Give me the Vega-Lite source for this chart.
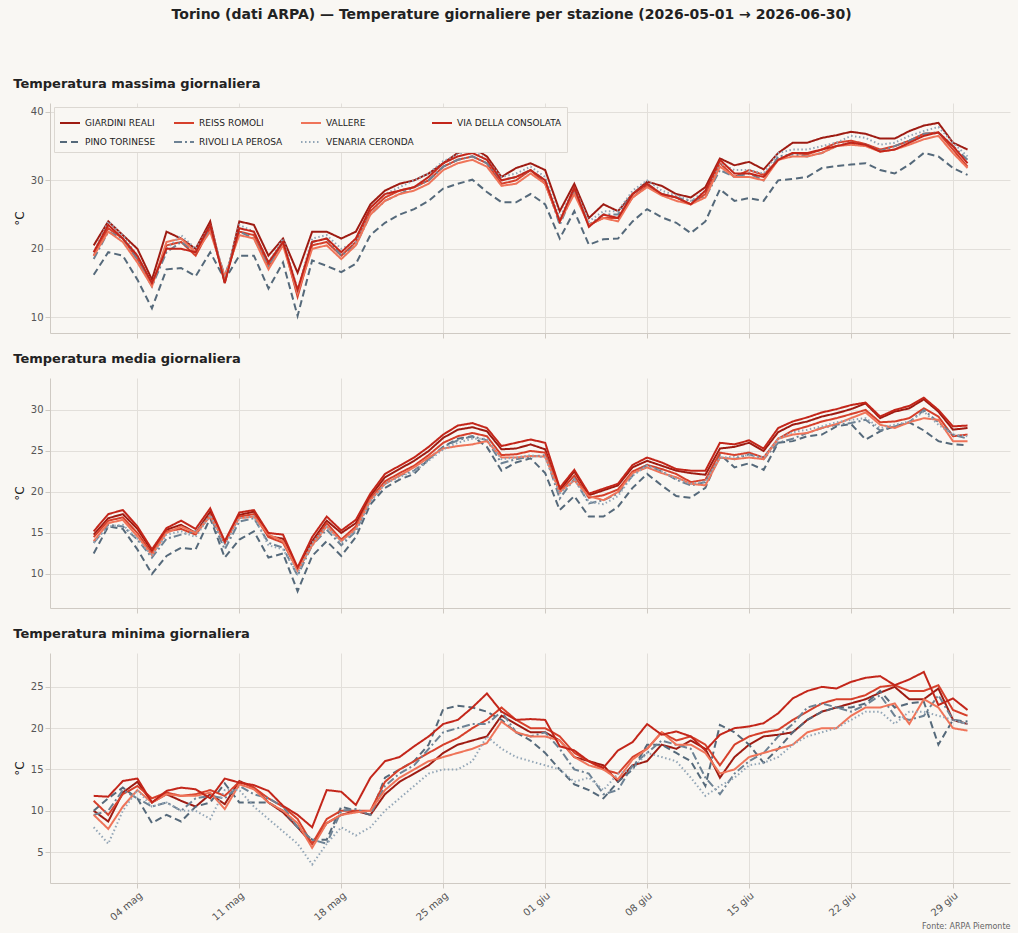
{
  "$schema": "https://vega.github.io/schema/vega-lite/v6.json",
  "background": "#f9f7f3",
  "padding": {"left": 13, "top": 8, "right": 8, "bottom": 2},
  "title": {"text": "Torino (dati ARPA) — Temperature giornaliere per stazione (2026-05-01 → 2026-06-30)", "fontSize": 14, "fontWeight": "bold", "color": "#222", "anchor": "middle", "offset": 56},
  "config": {
    "font": "DejaVu Sans",
    "view": {"stroke": null},
    "axis": {"gridColor": "#e2dfda", "domainColor": "#cfcac3", "tickColor": "#cfcac3", "labelColor": "#555", "labelFontSize": 10, "titleFontSize": 12, "titleFontWeight": "normal", "titleColor": "#222"},
    "title": {"anchor": "start", "fontSize": 13, "fontWeight": "bold", "color": "#222", "offset": 12}
  },
  "datasets": {
    "t": [
      {"d":"2026/05/01","gx":20.5,"px":16.2,"rx":19,"rvx":18.5,"vx":19,"vex":19.5,"cx":19.5,"gm":14.8,"pm":12.5,"rm":14.5,"rvm":13.8,"vm":14,"vem":13.8,"cm":15.2,"gn":10,"pn":10,"rn":11.2,"rvn":9.5,"vn":9.5,"ven":8,"cn":11.8},
      {"d":"2026/05/02","gx":24,"px":19.5,"rx":23,"rvx":22.5,"vx":22.5,"vex":24,"cx":23.5,"gm":16.8,"pm":15.8,"rm":16.5,"rvm":16,"vm":16.2,"vem":15.8,"cm":17.3,"gn":8.7,"pn":11.5,"rn":9.5,"rvn":10,"vn":7.8,"ven":6,"cn":11.7},
      {"d":"2026/05/03","gx":22,"px":19,"rx":21.5,"rvx":21.5,"vx":21,"vex":22,"cx":21.5,"gm":17.3,"pm":15.5,"rm":16.9,"rvm":15.8,"vm":16.6,"vem":16,"cm":17.8,"gn":12.2,"pn":12.8,"rn":12,"rvn":12.5,"vn":10.5,"ven":10,"cn":13.6},
      {"d":"2026/05/04","gx":20,"px":15.5,"rx":18.5,"rvx":18.5,"vx":18,"vex":19,"cx":19,"gm":15.5,"pm":13,"rm":15,"rvm":14.2,"vm":14.6,"vem":14.3,"cm":15.8,"gn":13.5,"pn":11.5,"rn":13,"rvn":11.5,"vn":12.5,"ven":12.5,"cn":13.9},
      {"d":"2026/05/05","gx":15.5,"px":11.3,"rx":14.8,"rvx":14.5,"vx":14.5,"vex":15,"cx":15,"gm":12.8,"pm":10,"rm":12.5,"rvm":12,"vm":12.3,"vem":12.2,"cm":13,"gn":11,"pn":8.5,"rn":11.5,"rvn":10.5,"vn":11,"ven":10.5,"cn":11},
      {"d":"2026/05/06","gx":22.5,"px":17,"rx":20.5,"rvx":19.5,"vx":21,"vex":20,"cx":20,"gm":15.4,"pm":12.2,"rm":15.2,"rvm":14.3,"vm":15,"vem":14.8,"cm":15.6,"gn":12,"pn":9.5,"rn":12.2,"rvn":11,"vn":12,"ven":11,"cn":12.4},
      {"d":"2026/05/07","gx":21.5,"px":17.2,"rx":21,"rvx":21,"vx":21.5,"vex":22,"cx":20,"gm":16,"pm":13.2,"rm":15.5,"rvm":14.8,"vm":15.8,"vem":15.2,"cm":16.5,"gn":11.2,"pn":8.7,"rn":11.8,"rvn":10,"vn":11.8,"ven":10,"cn":12.8},
      {"d":"2026/05/08","gx":20,"px":16,"rx":19,"rvx":19.5,"vx":19.5,"vex":20,"cx":19.5,"gm":15,"pm":13,"rm":14.8,"rvm":15.2,"vm":15,"vem":14.5,"cm":15.5,"gn":10.5,"pn":10.5,"rn":12,"rvn":11.5,"vn":11.8,"ven":10,"cn":12.6},
      {"d":"2026/05/09","gx":24,"px":19.5,"rx":23,"rvx":23,"vx":22.5,"vex":23.5,"cx":23.5,"gm":17.6,"pm":16.8,"rm":17.2,"rvm":17,"vm":17,"vem":17.2,"cm":18,"gn":12,"pn":11,"rn":12.5,"rvn":11.8,"vn":12.2,"ven":9,"cn":11.5},
      {"d":"2026/05/10","gx":15,"px":15.5,"rx":15.5,"rvx":16,"vx":16,"vex":15.5,"cx":15,"gm":13.8,"pm":12,"rm":13.8,"rvm":13,"vm":14,"vem":13.5,"cm":14,"gn":10.8,"pn":13.3,"rn":11.8,"rvn":11.5,"vn":10.2,"ven":12.5,"cn":13.9},
      {"d":"2026/05/11","gx":24,"px":19,"rx":22.5,"rvx":22.5,"vx":22,"vex":23.5,"cx":23,"gm":17.2,"pm":14.2,"rm":17,"rvm":16.4,"vm":16.8,"vem":16.8,"cm":17.5,"gn":13.6,"pn":11,"rn":13.5,"rvn":13,"vn":13.2,"ven":12.5,"cn":13.4},
      {"d":"2026/05/12","gx":23.5,"px":19,"rx":22,"rvx":21.5,"vx":21.5,"vex":22.5,"cx":22.5,"gm":17.6,"pm":15.2,"rm":17.3,"rvm":16.8,"vm":17,"vem":17,"cm":17.8,"gn":12.8,"pn":11,"rn":12.8,"rvn":12,"vn":12.6,"ven":10.5,"cn":13.1},
      {"d":"2026/05/13","gx":19,"px":14.2,"rx":17.5,"rvx":17.5,"vx":17,"vex":18,"cx":18,"gm":14.6,"pm":12,"rm":14.5,"rvm":13.8,"vm":14.8,"vem":13.5,"cm":15,"gn":11,"pn":11,"rn":11.5,"rvn":11.5,"vn":11,"ven":9,"cn":12.4},
      {"d":"2026/05/14","gx":21.5,"px":18,"rx":21,"rvx":21,"vx":20.5,"vex":21.5,"cx":21,"gm":14.3,"pm":12.5,"rm":13.8,"rvm":13.2,"vm":14,"vem":13,"cm":14.8,"gn":9.8,"pn":10,"rn":10.5,"rvn":10.5,"vn":10,"ven":7.5,"cn":10.6},
      {"d":"2026/05/15","gx":16.5,"px":10.2,"rx":13,"rvx":13.5,"vx":13.5,"vex":14,"cx":14,"gm":10.6,"pm":7.9,"rm":10.5,"rvm":9.8,"vm":10.4,"vem":10,"cm":10.8,"gn":8,"pn":8,"rn":9,"rvn":8,"vn":8.5,"ven":6,"cn":9.5},
      {"d":"2026/05/16","gx":22.5,"px":18.3,"rx":20.5,"rvx":21,"vx":20,"vex":21.5,"cx":21,"gm":14,"pm":12.2,"rm":13.6,"rvm":13.5,"vm":13.5,"vem":13.8,"cm":14.5,"gn":6,"pn":6.5,"rn":6,"rvn":6.5,"vn":5.5,"ven":3.5,"cn":8},
      {"d":"2026/05/17","gx":22.5,"px":17.5,"rx":21,"rvx":21.5,"vx":20.5,"vex":22,"cx":21.5,"gm":16.5,"pm":14,"rm":16.2,"rvm":15.4,"vm":15.8,"vem":15.8,"cm":17,"gn":8.5,"pn":6.5,"rn":9,"rvn":6,"vn":8.5,"ven":6,"cn":12.5},
      {"d":"2026/05/18","gx":21.5,"px":16.6,"rx":19,"rvx":19,"vx":18.5,"vex":20,"cx":19.5,"gm":15,"pm":12.2,"rm":14.2,"rvm":13.5,"vm":14,"vem":13.8,"cm":15.3,"gn":9.5,"pn":10.5,"rn":10,"rvn":10,"vn":9.5,"ven":8,"cn":12.3},
      {"d":"2026/05/19","gx":22.5,"px":17.8,"rx":21,"rvx":20.5,"vx":20.5,"vex":21,"cx":21.5,"gm":16.2,"pm":14.5,"rm":15.8,"rvm":15.2,"vm":15.5,"vem":15.3,"cm":16.6,"gn":10,"pn":10,"rn":10,"rvn":10.2,"vn":9.8,"ven":7,"cn":10.7},
      {"d":"2026/05/20","gx":26.5,"px":22,"rx":25.5,"rvx":25,"vx":25,"vex":26,"cx":26,"gm":19.5,"pm":18.5,"rm":19.2,"rvm":19,"vm":19,"vem":18.8,"cm":19.8,"gn":9.5,"pn":9.5,"rn":10,"rvn":9.5,"vn":10,"ven":8,"cn":14},
      {"d":"2026/05/21","gx":28.5,"px":23.8,"rx":27.5,"rvx":27,"vx":27,"vex":28,"cx":28,"gm":21.8,"pm":20.5,"rm":21.3,"rvm":21,"vm":21,"vem":21,"cm":22.2,"gn":12,"pn":14,"rn":13.5,"rvn":13,"vn":12.5,"ven":10,"cn":16},
      {"d":"2026/05/22","gx":29.5,"px":25,"rx":28.5,"rvx":28,"vx":28,"vex":29,"cx":28.5,"gm":22.8,"pm":21.5,"rm":22.3,"rvm":22,"vm":22,"vem":21.8,"cm":23.2,"gn":13.5,"pn":15,"rn":15,"rvn":14.5,"vn":14,"ven":11.5,"cn":16.5},
      {"d":"2026/05/23","gx":30,"px":25.8,"rx":29,"rvx":29,"vx":28.5,"vex":30,"cx":29,"gm":23.8,"pm":22.2,"rm":23.2,"rvm":22.6,"vm":23,"vem":22.5,"cm":24.2,"gn":14.5,"pn":16,"rn":16,"rvn":15.5,"vn":15,"ven":13,"cn":17.8},
      {"d":"2026/05/24","gx":31,"px":27,"rx":30,"rvx":30,"vx":29.5,"vex":31,"cx":30.5,"gm":25,"pm":24,"rm":24.5,"rvm":24,"vm":24.2,"vem":23.8,"cm":25.5,"gn":15.5,"pn":18,"rn":17,"rvn":17.5,"vn":16,"ven":14.5,"cn":19},
      {"d":"2026/05/25","gx":32.5,"px":28.8,"rx":32,"rvx":32,"vx":31.5,"vex":32.8,"cx":32.5,"gm":26.6,"pm":25.5,"rm":26,"rvm":25.5,"vm":25.3,"vem":25.2,"cm":27,"gn":17,"pn":22.3,"rn":18,"rvn":19.5,"vn":16.5,"ven":15,"cn":20.5},
      {"d":"2026/05/26","gx":34,"px":29.5,"rx":33,"rvx":33,"vx":32.5,"vex":33.8,"cx":33.5,"gm":27.6,"pm":26.5,"rm":26.8,"rvm":26.3,"vm":25.6,"vem":26,"cm":28.1,"gn":18,"pn":22.7,"rn":18.8,"rvn":20,"vn":17,"ven":15,"cn":21},
      {"d":"2026/05/27","gx":34.8,"px":30.1,"rx":33.5,"rvx":33.5,"vx":33,"vex":34.5,"cx":34,"gm":27.9,"pm":26.8,"rm":27.2,"rvm":26.8,"vm":25.8,"vem":26.5,"cm":28.4,"gn":18.5,"pn":22.5,"rn":20,"rvn":20.5,"vn":17.5,"ven":16,"cn":22.5},
      {"d":"2026/05/28","gx":33.5,"px":28.3,"rx":32.5,"rvx":32.5,"vx":32,"vex":33,"cx":33,"gm":27.4,"pm":25.5,"rm":26.8,"rvm":26.3,"vm":26.2,"vem":26.5,"cm":27.8,"gn":19,"pn":22,"rn":21,"rvn":20.5,"vn":18.2,"ven":19,"cn":24.2},
      {"d":"2026/05/29","gx":30.5,"px":26.8,"rx":29.5,"rvx":30,"vx":29.2,"vex":30.5,"cx":30,"gm":25.2,"pm":22.6,"rm":24.5,"rvm":23.5,"vm":24.2,"vem":24,"cm":25.6,"gn":21.5,"pn":21,"rn":22.5,"rvn":22,"vn":20.8,"ven":17.5,"cn":22},
      {"d":"2026/05/30","gx":31.8,"px":26.8,"rx":30,"rvx":30.5,"vx":29.5,"vex":31,"cx":30.5,"gm":25.3,"pm":23.6,"rm":24.6,"rvm":24,"vm":24.2,"vem":24.2,"cm":26,"gn":20.5,"pn":19.5,"rn":21,"rvn":19.5,"vn":19.5,"ven":16.5,"cn":21},
      {"d":"2026/05/31","gx":32.5,"px":28,"rx":31.5,"rvx":31.5,"vx":31,"vex":32,"cx":31.5,"gm":25.8,"pm":24.1,"rm":25,"rvm":24.3,"vm":24.4,"vem":24.5,"cm":26.4,"gn":19.5,"pn":18.5,"rn":20,"rvn":19,"vn":19,"ven":16,"cn":21.1},
      {"d":"2026/06/01","gx":31.5,"px":26.5,"rx":29.5,"rvx":30,"vx":29.5,"vex":30.5,"cx":30,"gm":25.2,"pm":22.3,"rm":24.8,"rvm":24.5,"vm":24.3,"vem":24.2,"cm":26,"gn":19.5,"pn":17,"rn":20,"rvn":19.5,"vn":19,"ven":15.5,"cn":21},
      {"d":"2026/06/02","gx":25.5,"px":21.5,"rx":24,"rvx":23.5,"vx":24,"vex":24.5,"cx":24,"gm":20.2,"pm":17.8,"rm":20,"rvm":19.2,"vm":20,"vem":19.8,"cm":20.5,"gn":18.5,"pn":15,"rn":19,"rvn":17.5,"vn":18.5,"ven":15,"cn":17.8},
      {"d":"2026/06/03","gx":29.5,"px":25.5,"rx":28.5,"rvx":28.5,"vx":28,"vex":29,"cx":29,"gm":22.5,"pm":19.5,"rm":22,"rvm":21.6,"vm":21.4,"vem":21.5,"cm":22.7,"gn":16.5,"pn":13.2,"rn":17,"rvn":15,"vn":16.5,"ven":13.5,"cn":17.3},
      {"d":"2026/06/04","gx":24.5,"px":20.6,"rx":23.5,"rvx":23.5,"vx":23.5,"vex":24,"cx":23.2,"gm":19.6,"pm":17,"rm":19.3,"rvm":18.6,"vm":19.5,"vem":18.8,"cm":19.8,"gn":16,"pn":12.5,"rn":16,"rvn":14.5,"vn":15.5,"ven":14,"cn":16},
      {"d":"2026/06/05","gx":26.5,"px":21.4,"rx":24.5,"rvx":25,"vx":24.5,"vex":25.5,"cx":25,"gm":20.2,"pm":17,"rm":19.6,"rvm":19,"vm":19,"vem":18.5,"cm":20.4,"gn":15.5,"pn":11.5,"rn":15,"rvn":12,"vn":15,"ven":12.5,"cn":15.2},
      {"d":"2026/06/06","gx":25.5,"px":21.5,"rx":24.5,"rvx":25,"vx":24,"vex":25.5,"cx":24.5,"gm":20.8,"pm":18.2,"rm":20.3,"rvm":19.8,"vm":20,"vem":19.5,"cm":21,"gn":13.5,"pn":13.5,"rn":14.5,"rvn":12.5,"vn":13.8,"ven":14.5,"cn":17.3},
      {"d":"2026/06/07","gx":28,"px":24,"rx":27.5,"rvx":28,"vx":27.5,"vex":28.5,"cx":28,"gm":23,"pm":20.5,"rm":22.5,"rvm":22,"vm":22.3,"vem":22,"cm":23.3,"gn":15.5,"pn":15,"rn":16.5,"rvn":15.5,"vn":16.2,"ven":15,"cn":18.3},
      {"d":"2026/06/08","gx":29.8,"px":25.8,"rx":29.2,"rvx":29.5,"vx":29,"vex":30,"cx":29.5,"gm":23.8,"pm":22.2,"rm":23.3,"rvm":23.3,"vm":23,"vem":23.2,"cm":24.2,"gn":16,"pn":18,"rn":17.5,"rvn":17,"vn":17.5,"ven":17,"cn":20.5},
      {"d":"2026/06/09","gx":29.2,"px":24.6,"rx":28,"rvx":28,"vx":27.8,"vex":28.5,"cx":28,"gm":23.2,"pm":20.8,"rm":22.8,"rvm":22.5,"vm":22.3,"vem":22.5,"cm":23.6,"gn":18,"pn":18,"rn":19.5,"rvn":18.5,"vn":19.5,"ven":16.5,"cn":19.2},
      {"d":"2026/06/10","gx":28,"px":23.8,"rx":27.5,"rvx":27.5,"vx":27,"vex":27.8,"cx":27.5,"gm":22.6,"pm":19.5,"rm":22.2,"rvm":21.5,"vm":21.8,"vem":21.6,"cm":22.8,"gn":17.5,"pn":17,"rn":18.5,"rvn":18,"vn":18,"ven":16,"cn":19.6},
      {"d":"2026/06/11","gx":27.5,"px":22.3,"rx":26.5,"rvx":27,"vx":26.5,"vex":27,"cx":26.5,"gm":22.3,"pm":19.3,"rm":21.2,"rvm":20.8,"vm":21,"vem":21,"cm":22.6,"gn":18.5,"pn":16,"rn":19,"rvn":17.5,"vn":18,"ven":14,"cn":19},
      {"d":"2026/06/12","gx":29,"px":24,"rx":28,"rvx":27.5,"vx":27.5,"vex":28.5,"cx":28.5,"gm":22.1,"pm":20.5,"rm":21.5,"rvm":21.2,"vm":20.8,"vem":21.3,"cm":22.6,"gn":17.5,"pn":13,"rn":18,"rvn":14,"vn":17,"ven":11.8,"cn":17.3},
      {"d":"2026/06/13","gx":33.2,"px":28.7,"rx":32.5,"rvx":31.5,"vx":32,"vex":32.5,"cx":33,"gm":25.3,"pm":24.6,"rm":24.8,"rvm":24.2,"vm":24.2,"vem":24.2,"cm":26,"gn":14,"pn":20.4,"rn":15.5,"rvn":12,"vn":14.5,"ven":13,"cn":19.2},
      {"d":"2026/06/14","gx":32.2,"px":27,"rx":30.5,"rvx":30.5,"vx":30.5,"vex":31.5,"cx":31,"gm":25.5,"pm":23,"rm":24.5,"rvm":24,"vm":24,"vem":24.3,"cm":25.8,"gn":16.5,"pn":19.5,"rn":18,"rvn":14.5,"vn":15,"ven":14,"cn":20},
      {"d":"2026/06/15","gx":32.7,"px":27.4,"rx":31.5,"rvx":31,"vx":30.5,"vex":31.5,"cx":31,"gm":26,"pm":23.5,"rm":24.8,"rvm":24.6,"vm":24.2,"vem":24.5,"cm":26.3,"gn":18,"pn":18,"rn":19,"rvn":16,"vn":16.5,"ven":15.5,"cn":20.2},
      {"d":"2026/06/16","gx":31.6,"px":27,"rx":30.8,"rvx":30,"vx":30,"vex":31,"cx":30.5,"gm":25,"pm":22.7,"rm":24.2,"rvm":24,"vm":24,"vem":24.2,"cm":25.3,"gn":19,"pn":15.8,"rn":19.5,"rvn":17,"vn":17,"ven":15.8,"cn":20.6},
      {"d":"2026/06/17","gx":34,"px":30,"rx":33,"rvx":33.5,"vx":33,"vex":34,"cx":33,"gm":27.3,"pm":26,"rm":26.5,"rvm":26,"vm":26.5,"vem":26.5,"cm":27.8,"gn":19.2,"pn":17.5,"rn":19.8,"rvn":19,"vn":17.5,"ven":16.5,"cn":21.8},
      {"d":"2026/06/18","gx":35.5,"px":30.2,"rx":34,"rvx":33.8,"vx":33.5,"vex":34.5,"cx":34,"gm":28.2,"pm":26.2,"rm":27.5,"rvm":26.5,"vm":27,"vem":27.3,"cm":28.6,"gn":19.5,"pn":19.5,"rn":21,"rvn":20.5,"vn":18,"ven":18,"cn":23.6},
      {"d":"2026/06/19","gx":35.5,"px":30.5,"rx":33.8,"rvx":33.5,"vx":33.5,"vex":34.5,"cx":34,"gm":28.6,"pm":26.8,"rm":28,"rvm":27.2,"vm":27.2,"vem":27.6,"cm":29.1,"gn":21,"pn":21,"rn":22,"rvn":22.5,"vn":19.5,"ven":19,"cn":24.5},
      {"d":"2026/06/20","gx":36.2,"px":31.8,"rx":34.5,"rvx":34,"vx":34,"vex":35,"cx":34.5,"gm":29.2,"pm":27,"rm":28.6,"rvm":27.8,"vm":27.8,"vem":28,"cm":29.7,"gn":22,"pn":22,"rn":23,"rvn":23,"vn":20,"ven":19.5,"cn":25},
      {"d":"2026/06/21","gx":36.6,"px":32.1,"rx":35.5,"rvx":35,"vx":35,"vex":35.5,"cx":35,"gm":29.6,"pm":28,"rm":29,"rvm":28.2,"vm":28.3,"vem":28.5,"cm":30.1,"gn":22.5,"pn":22.5,"rn":23.5,"rvn":22.5,"vn":20,"ven":20,"cn":24.8},
      {"d":"2026/06/22","gx":37.1,"px":32.3,"rx":35.8,"rvx":35.5,"vx":35.2,"vex":36.5,"cx":35.5,"gm":30.1,"pm":28.3,"rm":29.5,"rvm":28.4,"vm":29,"vem":28.8,"cm":30.6,"gn":23,"pn":22.5,"rn":23.5,"rvn":22,"vn":21.5,"ven":21,"cn":25.6},
      {"d":"2026/06/23","gx":36.8,"px":32.5,"rx":35.3,"rvx":35.2,"vx":35,"vex":36.2,"cx":35.2,"gm":30.8,"pm":26.4,"rm":30,"rvm":28.8,"vm":29.7,"vem":29,"cm":30.9,"gn":23.5,"pn":23,"rn":24,"rvn":22.8,"vn":22.5,"ven":22,"cn":26.1},
      {"d":"2026/06/24","gx":36.1,"px":31.5,"rx":34.5,"rvx":34.3,"vx":34.2,"vex":35.2,"cx":34.2,"gm":29,"pm":27.4,"rm":28.5,"rvm":27.5,"vm":28.2,"vem":27.8,"cm":29.2,"gn":24.3,"pn":24.5,"rn":25,"rvn":24,"vn":22.5,"ven":22,"cn":26.3},
      {"d":"2026/06/25","gx":36.1,"px":31,"rx":35,"rvx":35,"vx":34.5,"vex":35.5,"cx":34.5,"gm":29.8,"pm":28,"rm":28.6,"rvm":28,"vm":27.8,"vem":28.2,"cm":30,"gn":25,"pn":22.5,"rn":25.2,"rvn":21.5,"vn":23,"ven":20.5,"cn":25.2},
      {"d":"2026/06/26","gx":37.2,"px":32.3,"rx":35.8,"rvx":35.8,"vx":35.2,"vex":36.5,"cx":35.5,"gm":30.2,"pm":28.5,"rm":29,"rvm":28.5,"vm":28.5,"vem":28.6,"cm":30.5,"gn":23.5,"pn":23,"rn":24.5,"rvn":21,"vn":20.5,"ven":22,"cn":25.9},
      {"d":"2026/06/27","gx":38,"px":34,"rx":36.8,"rvx":36.8,"vx":36,"vex":37.2,"cx":36.5,"gm":31.3,"pm":27.5,"rm":30.2,"rvm":30,"vm":29,"vem":29.8,"cm":31.5,"gn":23.5,"pn":23.2,"rn":24.5,"rvn":21.5,"vn":23.5,"ven":22,"cn":26.8},
      {"d":"2026/06/28","gx":38.4,"px":33.5,"rx":37,"rvx":37,"vx":36.5,"vex":37.8,"cx":37,"gm":29.8,"pm":26.2,"rm":29.2,"rvm":28.5,"vm":28.8,"vem":28.2,"cm":30,"gn":24.8,"pn":18,"rn":25.2,"rvn":24,"vn":22.5,"ven":21.5,"cn":22.8},
      {"d":"2026/06/29","gx":35.5,"px":31.8,"rx":34.5,"rvx":35,"vx":34,"vex":35.5,"cx":35,"gm":27.6,"pm":25.8,"rm":26.8,"rvm":27,"vm":26.2,"vem":27,"cm":28,"gn":21,"pn":21,"rn":22.2,"rvn":21,"vn":20,"ven":21,"cn":23.6},
      {"d":"2026/06/30","gx":34.5,"px":30.8,"rx":32,"rvx":33,"vx":31.8,"vex":33.5,"cx":32.5,"gm":27.8,"pm":25.7,"rm":27,"rvm":26.5,"vm":26.2,"vem":26.8,"cm":28.1,"gn":20.5,"pn":20.8,"rn":21.5,"rvn":20.5,"vn":19.7,"ven":20.5,"cn":22.2}
    ]
  },
  "vconcat": [
    {
      "width": 960,
      "height": 230,
      "title": "Temperatura massima giornaliera",
      "layer": [
        {
          "data": {"name": "t"},
          "transform": [
            {"fold": ["gx", "px", "rx", "rvx", "vx", "vex", "cx"], "as": ["k", "val"]},
            {"calculate": "{'g':'GIARDINI REALI','p':'PINO TORINESE','r':'REISS ROMOLI','rv':'RIVOLI LA PEROSA','v':'VALLERE','ve':'VENARIA CERONDA','c':'VIA DELLA CONSOLATA'}[slice(datum.k,0,length(datum.k)-1)]", "as": "st"}
          ],
          "mark": {"type": "line", "strokeWidth": 2},
          "encoding": {
            "x": {"field": "d", "type": "temporal", "title": null,
              "scale": {"domain": [{"year": 2026, "month": 4, "date": 28}, {"year": 2026, "month": 7, "date": 2, "hours": 22}]},
              "axis": {"labels": false, "values": [{"year":2026,"month":5,"date":4},{"year":2026,"month":5,"date":11},{"year":2026,"month":5,"date":18},{"year":2026,"month":5,"date":25},{"year":2026,"month":6,"date":1},{"year":2026,"month":6,"date":8},{"year":2026,"month":6,"date":15},{"year":2026,"month":6,"date":22},{"year":2026,"month":6,"date":29}]}},
            "y": {"field": "val", "type": "quantitative", "title": "°C", "scale": {"domain": [7.7, 41.3], "nice": false}, "axis": {"values": [10, 15, 20, 25, 30, 35, 40]}},
            "color": {"field": "st", "type": "nominal", "title": null,
              "scale": {"domain": ["GIARDINI REALI", "PINO TORINESE", "REISS ROMOLI", "RIVOLI LA PEROSA", "VALLERE", "VENARIA CERONDA", "VIA DELLA CONSOLATA"], "range": ["#9e1b12", "#55697a", "#d6402b", "#6d8294", "#ef7459", "#92a5b6", "#c3261a"]},
              "legend": {"orient": "top-left", "columns": 4, "columnPadding": 14, "rowPadding": 3, "labelFontSize": 9, "labelColor": "#222", "symbolType": "stroke", "symbolSize": 400, "symbolStrokeWidth": 2, "fillColor": "#f9f7f3", "strokeColor": "#dcd8d2", "padding": 5, "offset": 4, "labelLimit": 200}},
            "strokeDash": {"field": "st", "type": "nominal", "title": null,
              "scale": {"domain": ["GIARDINI REALI", "PINO TORINESE", "REISS ROMOLI", "RIVOLI LA PEROSA", "VALLERE", "VENARIA CERONDA", "VIA DELLA CONSOLATA"], "range": [[1, 0], [7, 4], [1, 0], [8, 3, 2, 3], [1, 0], [1.5, 2.5], [1, 0]]}}
          }
        },
        {
          "mark": {"type": "rule", "color": "#d9483b", "strokeDash": [5, 3], "strokeWidth": 1.2},
          "encoding": {"y": {"datum": 25}}
        },
        {
          "mark": {"type": "text", "color": "#d9483b", "fontSize": 9, "align": "left", "dy": -6},
          "encoding": {"x": {"datum": {"year": 2026, "month": 5, "date": 1}}, "y": {"datum": 25}, "text": {"value": "soglia SU (25°C)"}}
        }
      ]
    },
    {
      "width": 960,
      "height": 230,
      "title": "Temperatura media giornaliera",
      "data": {"name": "t"},
      "transform": [
        {"fold": ["gm", "pm", "rm", "rvm", "vm", "vem", "cm"], "as": ["k", "val"]},
        {"calculate": "{'g':'GIARDINI REALI','p':'PINO TORINESE','r':'REISS ROMOLI','rv':'RIVOLI LA PEROSA','v':'VALLERE','ve':'VENARIA CERONDA','c':'VIA DELLA CONSOLATA'}[slice(datum.k,0,length(datum.k)-1)]", "as": "st"}
      ],
      "mark": {"type": "line", "strokeWidth": 2},
      "encoding": {
        "x": {"field": "d", "type": "temporal", "title": null,
          "scale": {"domain": [{"year": 2026, "month": 4, "date": 28}, {"year": 2026, "month": 7, "date": 2, "hours": 22}]},
          "axis": {"labels": false, "values": [{"year":2026,"month":5,"date":4},{"year":2026,"month":5,"date":11},{"year":2026,"month":5,"date":18},{"year":2026,"month":5,"date":25},{"year":2026,"month":6,"date":1},{"year":2026,"month":6,"date":8},{"year":2026,"month":6,"date":15},{"year":2026,"month":6,"date":22},{"year":2026,"month":6,"date":29}]}},
        "y": {"field": "val", "type": "quantitative", "title": "°C", "scale": {"domain": [5.85, 33.9], "nice": false}, "axis": {"values": [10, 15, 20, 25, 30]}},
        "color": {"field": "st", "type": "nominal", "legend": null,
          "scale": {"domain": ["GIARDINI REALI", "PINO TORINESE", "REISS ROMOLI", "RIVOLI LA PEROSA", "VALLERE", "VENARIA CERONDA", "VIA DELLA CONSOLATA"], "range": ["#9e1b12", "#55697a", "#d6402b", "#6d8294", "#ef7459", "#92a5b6", "#c3261a"]}},
        "strokeDash": {"field": "st", "type": "nominal", "legend": null,
          "scale": {"domain": ["GIARDINI REALI", "PINO TORINESE", "REISS ROMOLI", "RIVOLI LA PEROSA", "VALLERE", "VENARIA CERONDA", "VIA DELLA CONSOLATA"], "range": [[1, 0], [7, 4], [1, 0], [8, 3, 2, 3], [1, 0], [1.5, 2.5], [1, 0]]}}
      }
    },
    {
      "width": 960,
      "height": 230,
      "title": "Temperatura minima giornaliera",
      "layer": [
        {
          "data": {"name": "t"},
          "transform": [
            {"fold": ["gn", "pn", "rn", "rvn", "vn", "ven", "cn"], "as": ["k", "val"]},
            {"calculate": "{'g':'GIARDINI REALI','p':'PINO TORINESE','r':'REISS ROMOLI','rv':'RIVOLI LA PEROSA','v':'VALLERE','ve':'VENARIA CERONDA','c':'VIA DELLA CONSOLATA'}[slice(datum.k,0,length(datum.k)-1)]", "as": "st"}
          ],
          "mark": {"type": "line", "strokeWidth": 2},
          "encoding": {
            "x": {"field": "d", "type": "temporal", "title": "Fonte: ARPA Piemonte",
              "scale": {"domain": [{"year": 2026, "month": 4, "date": 28}, {"year": 2026, "month": 7, "date": 2, "hours": 22}]},
              "axis": {"labelAngle": -40, "labelAlign": "right", "labelBaseline": "top", "titleAnchor": "end", "titleFontSize": 8, "titleColor": "#666", "titlePadding": 0,
                "labelExpr": "timeFormat(datum.value,'%d') + ' ' + (month(datum.value)==4 ? 'mag' : 'giu')",
                "values": [{"year":2026,"month":5,"date":4},{"year":2026,"month":5,"date":11},{"year":2026,"month":5,"date":18},{"year":2026,"month":5,"date":25},{"year":2026,"month":6,"date":1},{"year":2026,"month":6,"date":8},{"year":2026,"month":6,"date":15},{"year":2026,"month":6,"date":22},{"year":2026,"month":6,"date":29}]}},
            "y": {"field": "val", "type": "quantitative", "title": "°C", "scale": {"domain": [1.25, 29.1], "nice": false}, "axis": {"values": [5, 10, 15, 20, 25]}},
            "color": {"field": "st", "type": "nominal", "legend": null,
              "scale": {"domain": ["GIARDINI REALI", "PINO TORINESE", "REISS ROMOLI", "RIVOLI LA PEROSA", "VALLERE", "VENARIA CERONDA", "VIA DELLA CONSOLATA"], "range": ["#9e1b12", "#55697a", "#d6402b", "#6d8294", "#ef7459", "#92a5b6", "#c3261a"]}},
            "strokeDash": {"field": "st", "type": "nominal", "legend": null,
              "scale": {"domain": ["GIARDINI REALI", "PINO TORINESE", "REISS ROMOLI", "RIVOLI LA PEROSA", "VALLERE", "VENARIA CERONDA", "VIA DELLA CONSOLATA"], "range": [[1, 0], [7, 4], [1, 0], [8, 3, 2, 3], [1, 0], [1.5, 2.5], [1, 0]]}}
          }
        },
        {
          "mark": {"type": "rule", "color": "#d9483b", "strokeDash": [5, 3], "strokeWidth": 1.2},
          "encoding": {"y": {"datum": 20}}
        },
        {
          "mark": {"type": "text", "color": "#d9483b", "fontSize": 9, "align": "left", "dy": -6},
          "encoding": {"x": {"datum": {"year": 2026, "month": 5, "date": 1}}, "y": {"datum": 20}, "text": {"value": "soglia TN (20°C)"}}
        }
      ]
    }
  ],
  "spacing": 14
}
